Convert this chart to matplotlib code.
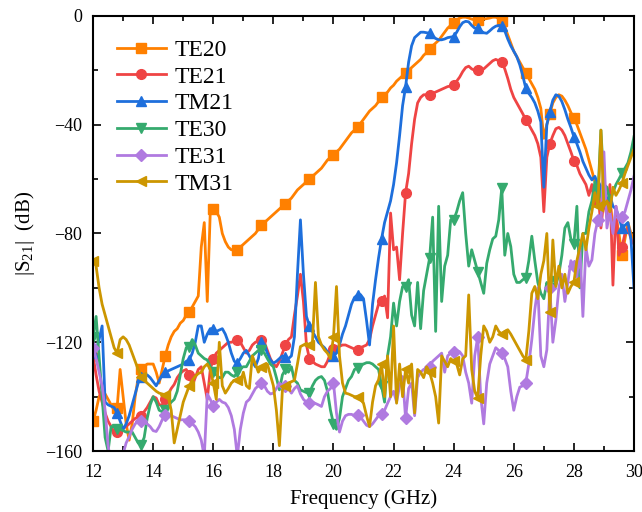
import numpy as np
import matplotlib
matplotlib.use("Agg")
import matplotlib.pyplot as plt
from matplotlib.ticker import MultipleLocator

# frequency grid, 0.1 GHz step
freq = np.round(np.arange(12.0, 30.0001, 0.1), 1)

te20 = [
    -149, -145, -140, -138, -139, -141, -143, -145, -144, -130,
    -140, -150, -156, -150, -140, -133, -130, -129, -128, -128,
    -128, -131, -135, -130, -125, -121, -118, -116, -115, -113,
    -112, -110, -109, -107, -105, -103, -85, -76, -105, -72,
    -71, -72, -74, -80, -83, -85, -86, -86, -86, -85,
    -84, -83, -82, -81, -80, -78.5, -77, -76, -75, -74,
    -73, -72, -71, -70, -69, -68, -67, -65.5, -64, -63,
    -62, -61, -60, -59, -58, -57, -56, -54.5, -53, -52,
    -51, -50, -49, -47.5, -46, -44.5, -43, -42, -41, -39.5,
    -38, -36.5, -35, -34, -33, -31.5, -30, -29, -28, -26.5,
    -25.5, -24, -23, -22, -21, -20, -19, -18, -17, -16,
    -14.5, -13.5, -12.3, -11, -10, -9, -7.5, -6, -4.5, -3.5,
    -2.5, -1.5, -0.8, -0.5, -0.5, -0.8, -1.2, -1.5, -1.5, -1.5,
    -1.2, -1, -0.8, -0.5, -0.5, -1, -2, -4, -7, -10,
    -13, -15, -17, -19, -21, -23, -25, -27, -30, -34,
    -45, -40, -36, -32, -30, -29, -29.5, -31, -33, -35.5,
    -37.6, -40, -43, -46, -49, -53, -57, -61, -64, -68,
    -66, -72, -67, -78, -74, -80, -88, -82, -76, -80, -82,
]

te21 = [
    -125, -132, -138, -142, -146, -149, -151, -153, -153, -152,
    -151.5, -151, -150, -149, -148, -147.5, -147, -145.5, -144, -142,
    -140, -140.5, -143, -143, -141, -139, -137, -135.5, -133, -131.5,
    -130.5, -130, -132, -136, -133, -130, -129, -135, -141, -130,
    -126, -124, -123, -122, -121, -120, -120, -119.5, -119, -120,
    -122, -124, -123, -121, -120, -119.5, -119, -120, -123, -126,
    -128, -129, -127, -124, -121, -119, -118, -110, -103, -95,
    -105, -121, -126, -127, -128, -128.5, -129, -129, -127, -124,
    -122.5, -122, -121.5, -121, -121, -121.5, -122, -122.5, -122.8, -122,
    -121.5, -121, -119, -114, -110, -106, -105, -103, -111, -72.5,
    -86, -85, -97, -80, -65, -58, -47, -38, -32, -30,
    -29, -29, -29, -28.5, -28, -27.5, -27, -26.5, -26, -25.8,
    -25.4, -24, -22.5, -20.5, -19, -18.5, -19.5, -20, -20, -20,
    -19.5, -18.5, -17.5, -16.5, -16, -16.5, -17, -19.5, -23, -27,
    -30, -32, -34, -36, -38.2, -40, -42, -44, -47, -52,
    -72, -52, -47, -44, -41.5, -41, -42, -44, -47, -50,
    -53.2, -55, -58, -60, -62, -66, -62, -70, -64, -78,
    -67, -74, -62, -99, -70, -88, -85, -80, -78, -82, -84,
]

tm21 = [
    -124, -123, -119, -114, -142, -143, -143.5, -144, -146, -149,
    -152, -150, -147, -143, -139, -135, -132.6, -132, -132, -133,
    -134.5, -136, -134, -132, -131, -130.5, -130, -129.5, -129, -128.5,
    -128, -127, -126.5, -124, -120, -114, -114, -120, -117, -115,
    -115, -116, -115.5, -115, -117, -120, -124, -127, -127.7, -126,
    -124, -123, -125, -127, -129, -126, -120, -121, -124, -126.5,
    -127.7, -127, -126, -125, -125.5, -126, -125, -118, -95, -75,
    -95, -110.5, -114, -116, -118, -120, -121, -122, -123.5, -124.5,
    -125, -124, -121, -117, -114, -110, -106, -103.5, -102.6, -102.5,
    -104, -112, -121, -106, -97, -89, -82, -76, -72, -68,
    -62, -54, -44, -33, -26, -17, -11, -8, -7, -6,
    -6, -6.2, -6.4, -7.5, -8.3, -8.8, -8.8, -8.5, -8, -7.8,
    -7.6, -6, -4, -2.5, -2, -2.2, -3.5, -4.5, -4.5, -5.5,
    -6.2, -6.4, -5.5, -4.5, -3.8, -3.5, -3.7, -5.5, -8.5, -11,
    -13, -15, -18, -22, -26.6, -28.5, -30, -32, -35, -39,
    -63, -40, -35.2, -31, -29, -29.5, -31.5, -34.5, -38, -41,
    -44.4, -47, -50, -53.5, -56, -58.5, -60.3, -59, -62, -66,
    -64, -68, -66, -70, -71, -74, -78, -77, -76, -82, -100,
]

te30 = [
    -118, -110.5, -125, -140, -155, -160, -151, -151, -152, -152,
    -152.5, -153, -153, -153, -155, -157, -157.7, -155, -148, -143,
    -140, -142, -145, -145.5, -145, -143.5, -142, -141, -138, -132,
    -126, -122, -121.6, -119, -121, -124, -125, -126, -126.5, -129,
    -131, -132, -133, -133, -131, -131, -132, -132.6, -131, -129.5,
    -129, -129, -127, -125, -124, -123, -122.8, -124, -126, -128,
    -129, -133, -137.5, -132, -130, -131, -129, -134, -135, -137.5,
    -138, -138.5, -138.7, -136, -134, -133, -132.6, -134, -138, -145,
    -150, -152, -148, -140, -137, -134, -132.6, -130, -129.5, -128.5,
    -128, -127.5, -127.5, -128, -129, -130, -136, -142, -125, -118,
    -105.6, -114, -105, -99.5, -99.5, -97, -110, -114, -98, -115,
    -101, -95, -89, -74, -116, -70, -105, -92, -88, -75,
    -75, -72, -68, -65, -80, -92, -86, -90, -94, -98,
    -102, -91, -86, -82, -81, -75, -63.3, -88, -80, -84.8,
    -95, -98, -98, -97, -96.4, -90, -81, -90, -98, -102,
    -104, -98, -100, -96, -99, -95, -88, -78, -76, -82,
    -84, -70, -100, -80, -80, -72, -68, -61, -66, -42,
    -62, -63, -68, -65, -62, -60, -57.8, -56, -54, -50, -44.4,
]

te31 = [
    -122, -126, -131, -136, -145, -158, -165, -168, -168, -165,
    -161, -157, -154.7, -152, -150, -149, -149, -149.5, -150, -151,
    -152.5, -152.8, -151, -148.5, -146.7, -146.5, -147, -147.5, -148, -148.5,
    -148.5, -148.5, -149, -150, -151, -153, -156, -162, -139, -141,
    -143.6, -142, -141, -142, -142.4, -144, -147, -152, -162, -152,
    -146, -142, -141, -139, -137, -136, -135, -136, -138, -139,
    -138.7, -137, -135, -136, -136, -137, -138.7, -137, -136, -139,
    -141, -142, -142.4, -142, -142.5, -143, -143.6, -140, -138, -137,
    -135, -146, -153, -149, -147, -146.5, -146.5, -147, -146.7, -147.5,
    -149, -150.5, -151, -150, -148.5, -147, -146.5, -145, -142.4, -140,
    -138, -142, -136, -132.6, -148, -137, -135, -147, -133, -131,
    -130, -129.5, -129, -127, -126, -125, -124, -131, -125, -124,
    -123.4, -123, -123.5, -125, -131, -135, -142.4, -125, -118, -140,
    -150, -135, -128, -125, -122, -123, -124, -126, -129, -138,
    -145, -140, -136.5, -136, -135, -128, -119, -108, -100, -125,
    -129, -122.8, -100, -120, -111.8, -100, -95, -105, -98, -90,
    -92, -96, -85, -110.5, -85, -92, -89.7, -80, -75, -77,
    -50, -78, -72, -80, -70, -75, -73.8, -72, -68, -64, -59,
]

tm31 = [
    -90, -92, -100, -106, -110, -114, -118, -122, -124, -119,
    -118, -119, -121, -124, -127, -130, -132.6, -134, -135, -136,
    -137, -138, -138.7, -139, -139.3, -140, -145, -157, -152, -147,
    -142, -139, -136, -134, -132.5, -131.5, -131, -129, -128, -130,
    -135, -141, -120, -136, -138.7, -137, -135, -134, -133.8, -135,
    -131, -136, -137, -125, -128, -131, -129, -130, -128, -132,
    -136, -145, -158, -137.5, -136, -135, -134.5, -134, -128, -121.6,
    -121, -120.4, -121, -120, -98, -118, -121, -122.8, -124, -126,
    -118, -99.5, -125, -135, -138.7, -139, -139.5, -140, -140, -141,
    -142.4, -147, -151, -142, -136, -133.8, -128, -140, -125, -140,
    -114, -142.4, -128, -140, -130, -135, -128, -146, -130, -131,
    -133, -129, -131, -135, -140, -149.7, -125, -127, -129, -126,
    -127, -128, -132, -126, -125, -102.6, -130, -138, -140.5, -125,
    -114, -116, -120, -118, -114, -116, -117, -116, -115.4, -117,
    -119, -121, -123, -125, -126.5, -116, -102, -99.5, -104, -95,
    -90, -80, -109, -82.4, -99.5, -92, -100, -95, -102, -99.5,
    -98, -90, -85, -80, -86, -78, -72, -65, -70, -42,
    -70, -68, -72, -63, -66, -64, -61.5, -58, -55, -52, -49,
]

series = [
    ("TE20", te20, "#FF8000", "s"),
    ("TE21", te21, "#EF4444", "o"),
    ("TM21", tm21, "#1E6FDC", "^"),
    ("TE30", te30, "#35AA6E", "v"),
    ("TE31", te31, "#B07AE0", "D"),
    ("TM31", tm31, "#CC9600", "<"),
]

plt.rcParams["font.family"] = ["Liberation Serif", "DejaVu Serif"]
plt.rcParams["mathtext.fontset"] = "custom"
plt.rcParams["mathtext.rm"] = "Liberation Serif"
plt.rcParams["mathtext.it"] = "Liberation Serif"

fig = plt.figure(figsize=(6.42, 5.12), dpi=100)
ax = fig.add_axes([0.145, 0.119, 0.8425, 0.85])

for name, vals, color, mk in series:
    ms = 6 if mk == "D" else 7
    ax.plot(freq, vals, color=color, linewidth=2.0, marker=mk, markersize=ms,
            markevery=8, label=name)

ax.set_xlim(12, 30)
ax.set_ylim(-160, 0)
ax.xaxis.set_major_locator(MultipleLocator(2))
ax.xaxis.set_minor_locator(MultipleLocator(1))
ax.yaxis.set_major_locator(MultipleLocator(40))
ax.yaxis.set_minor_locator(MultipleLocator(20))
ax.tick_params(which="both", direction="in", top=True, right=True, labelsize=13, width=1.2)
ax.tick_params(which="major", length=6)
ax.tick_params(which="minor", length=3.5)
ax.tick_params(axis="x", which="major", pad=9)
ax.tick_params(axis="y", which="major", pad=8)
for sp in ax.spines.values():
    sp.set_linewidth(1.5)

ax.set_xlabel("Frequency (GHz)", fontsize=15, labelpad=6)
ax.set_ylabel("|S$_{21}$|  (dB)", fontsize=15, labelpad=6)

ax.legend(loc="upper left", frameon=False, fontsize=17, handlelength=2.1,
          handletextpad=0.35, labelspacing=0.22, borderaxespad=0.6)

fig.savefig("out.png", dpi=100)
